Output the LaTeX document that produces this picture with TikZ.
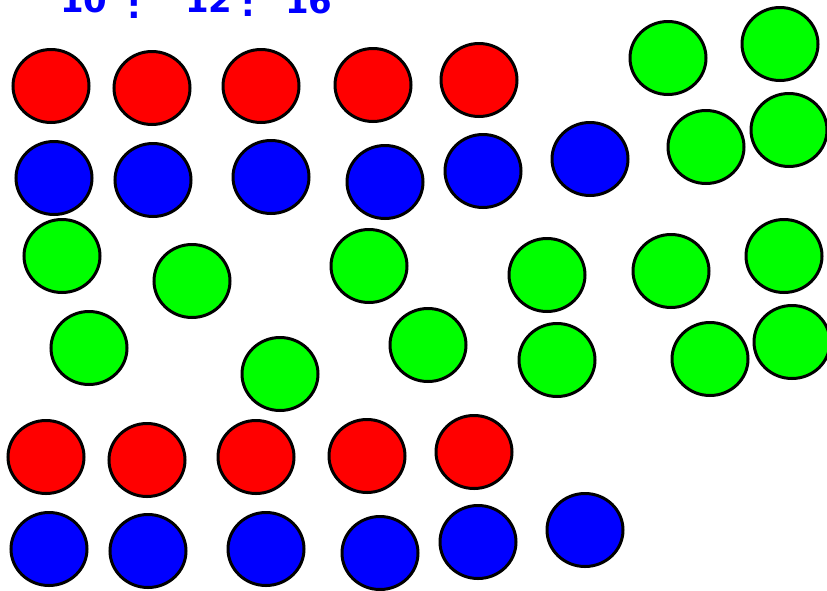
\documentclass[tikz,border=0pt]{standalone}
\usepackage{fontspec}
\setmainfont{DejaVu Sans}
\usetikzlibrary{shapes.geometric}
\definecolor{cred}{RGB}{255,0,0}
\definecolor{cblue}{RGB}{0,0,255}
\definecolor{cgreen}{RGB}{0,255,0}
\tikzset{
  ball/.style={ellipse, draw=black, line width=3pt, minimum width=76pt, minimum height=73pt, inner sep=0pt},
  rb/.style={ball, fill=cred},
  bb/.style={ball, fill=cblue},
  gb/.style={ball, fill=cgreen},
  ratio/.style={text=cblue, font=\bfseries\fontsize{34}{34}\selectfont, anchor=base west, inner sep=0pt}
}
\begin{document}
\begin{tikzpicture}[x=1pt,y=-1pt]
\useasboundingbox (0,0) rectangle (827,590);
\clip (0,0) rectangle (827,590);
\fill[white] (0,0) rectangle (827,590);
% ratio text
\node[ratio] (t1) at (60,12) {10};
\node[ratio] (c1) at (127,18) {:};
\node[ratio] (t2) at (185,12) {12};
\node[ratio] (c2) at (241,16) {:};
\node[ratio] (t3) at (285,13) {16};
% red top
\node[rb] (r1) at (51,86) {};
\node[rb] (r2) at (152,88) {};
\node[rb] (r3) at (261,86) {};
\node[rb] (r4) at (373,85) {};
\node[rb] (r5) at (479,80) {};
% blue top
\node[bb] (b1) at (54,178) {};
\node[bb] (b2) at (153,180) {};
\node[bb] (b3) at (271,177) {};
\node[bb] (b4) at (385,182) {};
\node[bb] (b5) at (483,171) {};
\node[bb] (b6) at (590,159) {};
% green top right
\node[gb] (g1) at (668,58) {};
\node[gb] (g2) at (780,44) {};
\node[gb] (g3) at (706,147) {};
\node[gb] (g4) at (789,130) {};
% green middle
\node[gb] (g5) at (62,256) {};
\node[gb] (g6) at (192,281) {};
\node[gb] (g7) at (369,266) {};
\node[gb] (g8) at (547,275) {};
\node[gb] (g9) at (671,271) {};
\node[gb] (g10) at (784,256) {};
\node[gb] (g11) at (89,348) {};
\node[gb] (g12) at (280,374) {};
\node[gb] (g13) at (428,345) {};
\node[gb] (g14) at (557,360) {};
\node[gb] (g15) at (710,359) {};
\node[gb] (g16) at (792,342) {};
% red bottom
\node[rb] (r6) at (46,457) {};
\node[rb] (r7) at (147,460) {};
\node[rb] (r8) at (256,457) {};
\node[rb] (r9) at (367,456) {};
\node[rb] (r10) at (474,452) {};
% blue bottom
\node[bb] (b7) at (49,549) {};
\node[bb] (b8) at (148,551) {};
\node[bb] (b9) at (266,549) {};
\node[bb] (b10) at (380,553) {};
\node[bb] (b11) at (478,542) {};
\node[bb] (b12) at (585,530) {};
\end{tikzpicture}
\end{document}
